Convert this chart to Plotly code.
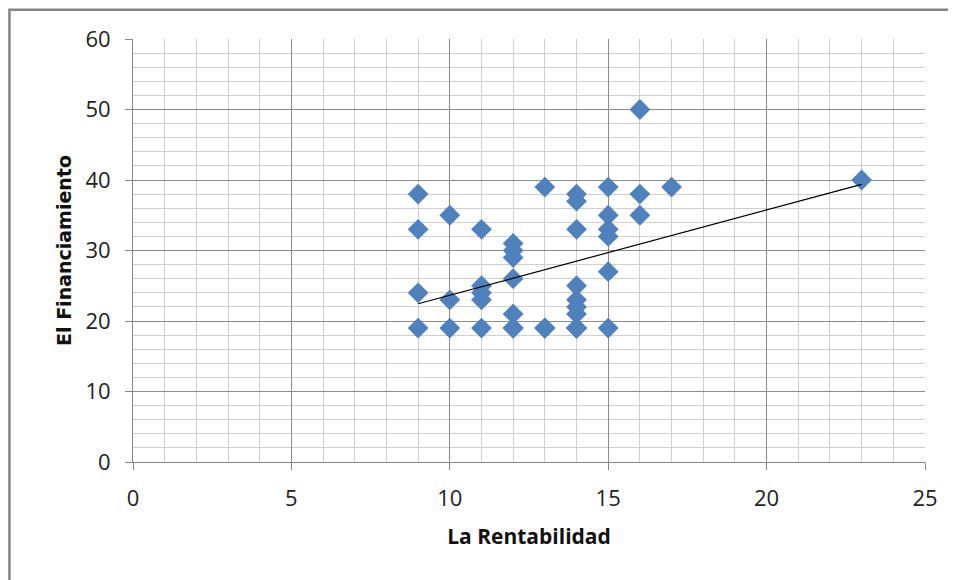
import numpy as np
import plotly.graph_objects as go

# La Rentabilidad (x) and El Financiamiento (y); some overlapping points at 19 are duplicated
rentabilidad = [9, 9, 9, 9,
                10, 10, 10,
                11, 11, 11, 11, 11,
                12, 12, 12, 12, 12, 12, 12, 12,
                13, 13, 13, 13, 13,
                14, 14, 14, 14, 14, 14, 14, 14, 14, 14, 14,
                15, 15, 15, 15, 15, 15,
                16, 16, 16,
                17,
                23]
financiamiento = [38, 33, 24, 19,
                  35, 23, 19,
                  33, 25, 24, 23, 19,
                  31, 30, 29, 26, 21, 19, 19, 19,
                  39, 19, 19, 19, 19,
                  38, 37, 33, 25, 23, 22, 21, 19, 19, 19, 19,
                  39, 35, 33, 32, 27, 19,
                  50, 38, 35,
                  39,
                  40]

x_ticks = [0, 5, 10, 15, 20, 25]
y_ticks = [0, 10, 20, 30, 40, 50, 60]

xa = np.array(rentabilidad, dtype=float)
ya = np.array(financiamiento, dtype=float)
slope, intercept = np.polyfit(xa, ya, 1)
trend_x = [xa.min(), xa.max()]
trend_y = [intercept + slope * v for v in trend_x]

fig = go.Figure()
fig.add_trace(go.Scatter(
    x=rentabilidad, y=financiamiento, mode="markers",
    marker=dict(symbol="diamond", size=16, color="#4F81BD",
                line=dict(width=0)),
    showlegend=False, hoverinfo="x+y"))
fig.add_trace(go.Scatter(
    x=trend_x, y=trend_y, mode="lines",
    line=dict(color="#000000", width=1.2),
    showlegend=False, hoverinfo="skip"))

font_family = "Open Sans, Noto Sans, DejaVu Sans, sans-serif"
axis_common = dict(
    showline=True, linecolor="#868686", linewidth=1,
    ticks="outside", ticklen=7, tickcolor="#868686", tickwidth=1,
    showgrid=True, gridcolor="#8C8C8C", gridwidth=1,
    zeroline=False,
    tickfont=dict(family=font_family, size=22, color="#222222"),
)

fig.update_xaxes(
    range=[0, 25], tickvals=x_ticks,
    minor=dict(dtick=1, showgrid=True, gridcolor="#CFCFCF", gridwidth=1, ticks=""),
    title=dict(text="<b>La Rentabilidad</b>",
               font=dict(family=font_family, size=21, color="#111111"),
               standoff=17),
    ticklabelstandoff=10,
    **axis_common)
fig.update_yaxes(
    range=[0, 60], tickvals=y_ticks,
    minor=dict(dtick=2, showgrid=True, gridcolor="#CFCFCF", gridwidth=1, ticks=""),
    title=dict(text="<b>El Financiamiento</b>",
               font=dict(family="DejaVu Sans, sans-serif", size=19, color="#111111"),
               standoff=8),
    ticklabelstandoff=10,
    **axis_common)

fig.update_layout(
    width=948, height=572,
    margin=dict(l=125, r=31, t=31, b=118),
    paper_bgcolor="white", plot_bgcolor="white",
    shapes=[dict(type="rect", xref="paper", yref="paper",
                 x0=-0.156, x1=1.2, y0=-0.5, y1=1.069,
                 line=dict(color="#868686", width=2.5),
                 fillcolor="rgba(0,0,0,0)", layer="below")],
)

fig.write_html("out.html")
